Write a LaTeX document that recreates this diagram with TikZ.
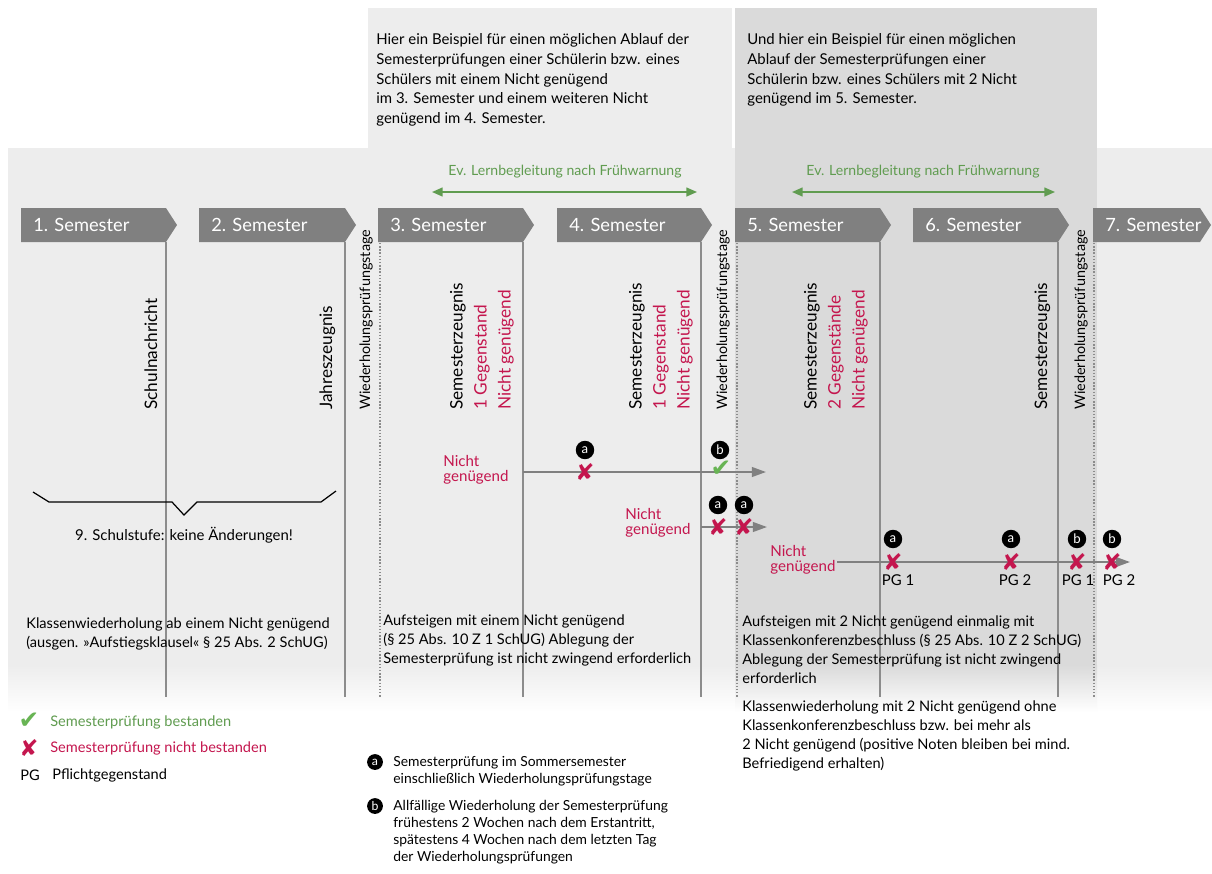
\documentclass[tikz,border=0pt]{standalone}
\usepackage{fontspec}
\setmainfont{Lato}
\newfontfamily\symfont{DejaVu Sans}
\usetikzlibrary{arrows.meta,positioning}
\definecolor{bglight}{RGB}{237,237,237}
\definecolor{bgdark}{RGB}{218,218,218}
\definecolor{tabgray}{RGB}{128,128,128}
\definecolor{linegray}{RGB}{140,140,140}
\definecolor{ngred}{RGB}{196,22,78}
\definecolor{okgreen}{RGB}{96,156,80}
\definecolor{chkgreen}{RGB}{104,180,84}
\newcommand{\fs}[2]{\fontsize{#1}{#2}\selectfont}

\begin{document}
\begin{tikzpicture}[x=0.02cm,y=-0.02cm,
  semtab/.style={fill=tabgray},
  tablabel/.style={text=white,font=\fs{10.4}{12},anchor=west,inner sep=0pt},
  zline/.style={linegray,line width=0.8pt},
  wline/.style={linegray,densely dotted,line width=0.8pt},
  vlabel/.style={rotate=90,anchor=base west,inner sep=0pt,font=\fs{9.8}{12}},
  wlabel/.style={rotate=90,anchor=base west,inner sep=0pt,font=\fs{8.2}{10}},
  zlabel/.style={rotate=90,anchor=south west,inner sep=0pt,align=left,font=\fs{9.8}{13.6}},
  head/.style={anchor=north west,inner sep=0pt,align=left,font=\fs{8.5}{11.3}},
  body/.style={anchor=north west,inner sep=0pt,align=left,font=\fs{8.3}{10.8}},
  fnote/.style={anchor=north west,inner sep=0pt,align=left,font=\fs{7.9}{9.7}},
  legtext/.style={anchor=west,inner sep=0pt,font=\fs{8.3}{10}},
  lbtext/.style={text=okgreen,inner sep=0pt,font=\fs{8}{10}},
  ngtext/.style={anchor=west,inner sep=0pt,align=left,text=ngred,font=\fs{8.6}{8.6}},
  pglabel/.style={inner sep=0pt,font=\fs{8.5}{10}},
  tarrow/.style={draw=tabgray,line width=1.1pt,-{Triangle[length=8pt,width=5.5pt]}},
  lbarrow/.style={draw=okgreen,line width=0.9pt,{Triangle[length=6pt,width=5pt]}-{Triangle[length=6pt,width=5pt]}},
  fail/.style={text=ngred,inner sep=0pt,font=\symfont\fs{13}{13}},
  pass/.style={text=chkgreen,inner sep=0pt,font=\symfont\fs{14}{14}},
  keycirc/.style={circle,fill=black,text=white,inner sep=0pt,minimum size=10.5pt,font=\fs{7.5}{7.5}},
  fkey/.style={keycirc,minimum size=9pt,font=\fs{7}{7}},
]
\useasboundingbox (0,0) rectangle (1212,873);
% background
\fill[white] (0,0) rectangle (1212,873);
\fill[bglight] (8,148) rectangle (1212,665);
\shade[top color=bglight,bottom color=white] (8,665) rectangle (1212,712);
\fill[bglight] (368,8) rectangle (732,148);
\fill[bgdark] (735,8) rectangle (1097,665);
\shade[top color=bgdark,bottom color=white] (735,665) rectangle (1097,712);

% headers
\node[head] (hd1) at (376,33) {Hier ein Beispiel für einen möglichen Ablauf der\\Semesterprüfungen einer Schülerin bzw. eines\\Schülers mit einem Nicht genügend\\im 3. Semester und einem weiteren Nicht\\genügend im 4. Semester.};
\node[head] (hd2) at (747,33) {Und hier ein Beispiel für einen möglichen\\Ablauf der Semesterprüfungen einer\\Schülerin bzw. eines Schülers mit 2 Nicht\\genügend im 5. Semester.};

% Lernbegleitung
\node[lbtext] (lb1) at (565,172) {Ev. Lernbegleitung nach Frühwarnung};
\node[lbtext] (lb2) at (923,172) {Ev. Lernbegleitung nach Frühwarnung};
\coordinate (lb1a) at (432,192);
\coordinate (lb1b) at (697,192);
\coordinate (lb2a) at (792,192);
\coordinate (lb2b) at (1055,192);
\draw[lbarrow] (lb1a) -- (lb1b);
\draw[lbarrow] (lb2a) -- (lb2b);

% semester tabs
\foreach \n/\xa/\xb in {1/21/166,2/199/345,3/378/523,4/557/701,5/735/880,6/913/1058,7/1093/1200}{
  \fill[semtab] (\xa,208) -- (\xb,208) -- (\xb+11,225) -- (\xb,242) -- (\xa,242) -- cycle;
  \node[tablabel] (sem\n) at (\xa+12,225) {\n. Semester};
}

% Zeugnis- und Pruefungslinien
\foreach \x in {166,345,523,701,880,1058}
  \draw[zline] (\x,242) -- (\x,697);
\foreach \x in {380,737,1094}
  \draw[wline] (\x,243) -- (\x,697);

% vertical labels
\node[vlabel] (sn) at (157,410) {Schulnachricht};
\node[vlabel] (jz) at (332,410) {Jahreszeugnis};
\node[vlabel] (sz6) at (1047,410) {Semesterzeugnis};
\foreach \x/\nm in {370/wt1,727/wt2,1085/wt3}
  \node[wlabel] (\nm) at (\x,410) {Wiederholungsprüfungstage};
\node[zlabel] (sz3) at (514,410) {Semesterzeugnis\\\textcolor{ngred}{1 Gegenstand}\\\textcolor{ngred}{Nicht genügend}};
\node[zlabel] (sz4) at (693,410) {Semesterzeugnis\\\textcolor{ngred}{1 Gegenstand}\\\textcolor{ngred}{Nicht genügend}};
\node[zlabel] (sz5) at (868,410) {Semesterzeugnis\\\textcolor{ngred}{2 Gegenstände}\\\textcolor{ngred}{Nicht genügend}};

% 9. Schulstufe
\draw[line width=0.7pt] (33,492) -- (49,502) -- (172,502) -- (184,515) -- (197,502) -- (321,502) -- (336,491);
\node[pglabel] (st9) at (184,535) {9. Schulstufe: keine Änderungen!};

% Ablauf: ein Nicht genuegend
\coordinate (r1s) at (523,472);
\coordinate (r1e) at (766,472);
\draw[tarrow] (r1s) -- (r1e);
\node[ngtext] (ng1) at (443,470) {Nicht\\genügend};
\node[fail] (f1) at (585,472) {✘};
\node[keycirc] (k1) at (585,450) {a};
\node[pass] (p1) at (721,469) {✔};
\node[keycirc] (k2) at (720,450) {b};

\coordinate (r2s) at (701,527);
\coordinate (r2e) at (767,527);
\draw[tarrow] (r2s) -- (r2e);
\node[ngtext] (ng2) at (625,523) {Nicht\\genügend};
\node[fail] (f2) at (718,527) {✘};
\node[fail] (f3) at (744,527) {✘};
\node[keycirc] (k3) at (718,505) {a};
\node[keycirc] (k4) at (744,505) {a};

% Ablauf: zwei Nicht genuegend
\coordinate (r3s) at (837,562);
\coordinate (r3e) at (1130,562);
\draw[tarrow] (r3s) -- (r3e);
\node[ngtext] (ng3) at (770,560) {Nicht\\genügend};
\foreach \x/\k/\pg/\px in {893/a/1/898,1011/a/2/1015,1077/b/1/1078,1112/b/2/1119}{
  \node[fail] (f\x) at (\x,562) {✘};
  \node[keycirc] (k\x) at (\x,539) {\k};
  \node[pglabel] (pg\x) at (\px,580) {PG \pg};
}

% texts below
\node[body] (t1) at (26,617) {Klassenwiederholung ab einem Nicht genügend\\(ausgen. »Aufstiegsklausel« § 25 Abs. 2 SchUG)};
\node[body] (t3) at (383,614) {Aufsteigen mit einem Nicht genügend\\(§ 25 Abs. 10 Z 1 SchUG) Ablegung der\\Semesterprüfung ist nicht zwingend erforderlich};
\node[body] (t5) at (742,615) {Aufsteigen mit 2 Nicht genügend einmalig mit\\Klassenkonferenzbeschluss (§ 25 Abs. 10 Z 2 SchUG)\\Ablegung der Semesterprüfung ist nicht zwingend\\erforderlich};
\node[body] (t5b) at (742,700) {Klassenwiederholung mit 2 Nicht genügend ohne\\Klassenkonferenzbeschluss bzw. bei mehr als\\2 Nicht genügend (positive Noten bleiben bei mind.\\Befriedigend erhalten)};

% legend
\node[pass] (lp) at (29,721) {✔};
\node[legtext,text=okgreen] (lpt) at (50,722) {Semesterprüfung bestanden};
\node[fail] (lf) at (29,748) {✘};
\node[legtext,text=ngred] (lft) at (50,748) {Semesterprüfung nicht bestanden};
\node[legtext] (lpg) at (20,775) {PG};
\node[legtext] (lpgt) at (52,775) {Pflichtgegenstand};

% footnotes
\node[fkey] (fa) at (375,762) {a};
\node[fnote] (fat) at (393,756) {Semesterprüfung im Sommersemester\\einschließlich Wiederholungsprüfungstage};
\node[fkey] (fb) at (375,806) {b};
\node[fnote] (fbt) at (393,800) {Allfällige Wiederholung der Semesterprüfung\\frühestens 2 Wochen nach dem Erstantritt,\\spätestens 4 Wochen nach dem letzten Tag\\der Wiederholungsprüfungen};
\end{tikzpicture}
\end{document}
